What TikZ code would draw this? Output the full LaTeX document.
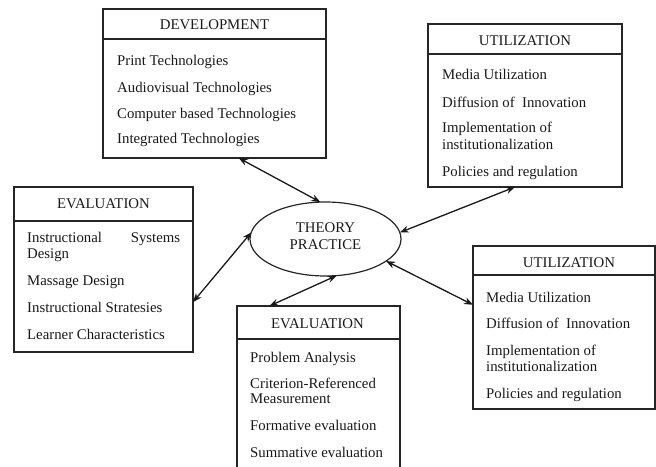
\documentclass[tikz,border=0pt]{standalone}
\usepackage{fontspec}
\setmainfont{Liberation Serif}
\usetikzlibrary{arrows.meta,shapes.geometric}
\begin{document}
\begin{tikzpicture}[x=1pt,y=-1pt,
  box/.style={draw=black!85,line width=1.2pt,rectangle,outer sep=0pt,inner sep=0pt},
  ttl/.style={anchor=base,inner sep=0pt,text=black!90,font=\fontsize{14.8pt}{17pt}\selectfont},
  itm/.style={anchor=base west,inner sep=0pt,text=black!90,font=\fontsize{14.8pt}{17pt}\selectfont},
  div/.style={draw=black!85,line width=1.2pt},
  link/.style={draw=black!90,line width=1.3pt,{Stealth[length=9pt,width=7pt]}-{Stealth[length=9pt,width=7pt]}}]
\useasboundingbox (0,0) rectangle (656,466);
\clip (0,0) rectangle (656,466);
% DEVELOPMENT
\node[box,minimum width=223pt,minimum height=149pt] (dev) at (214.5,83.5) {};
\draw[div] ([yshift=-30pt]dev.north west) -- ([yshift=-30pt]dev.north east);
\node[ttl] (devT) at (214.5,29) {DEVELOPMENT};
\node[itm] (dev1) at (117,65) {Print Technologies};
\node[itm] (dev2) at (117,92) {Audiovisual Technologies};
\node[itm] (dev3) at (117,118) {Computer based Technologies};
\node[itm] (dev4) at (117,143) {Integrated Technologies};
% UTILIZATION top
\node[box,minimum width=194pt,minimum height=163pt] (ut) at (525,105.5) {};
\draw[div] ([yshift=-30pt]ut.north west) -- ([yshift=-30pt]ut.north east);
\node[ttl] (utT) at (525,45) {UTILIZATION};
\node[itm] (ut1) at (442,79) {Media Utilization};
\node[itm] (ut2) at (442,107) {Diffusion of\ \ Innovation};
\node[itm] (ut3) at (442,132) {Implementation of};
\node[itm] (ut3b) at (442,149) {institutionalization};
\node[itm] (ut4) at (442,176) {Policies and regulation};
% EVALUATION left
\node[box,minimum width=179pt,minimum height=165pt] (evl) at (103.5,269.5) {};
\draw[div] ([yshift=-34pt]evl.north west) -- ([yshift=-34pt]evl.north east);
\node[ttl] (evlT) at (103.5,208) {EVALUATION};
\node[itm] (evl1) at (27,242) {\hbox to 153pt{Instructional\hfill Systems}};
\node[itm] (evl1b) at (27,258) {Design};
\node[itm] (evl2) at (27,285) {Massage Design};
\node[itm] (evl3) at (27,312) {Instructional Stratesies};
\node[itm] (evl4) at (27,339) {Learner Characteristics};
% THEORY PRACTICE
\node[draw=black!85,line width=1.2pt,ellipse,minimum width=151pt,minimum height=74pt,inner sep=0pt,outer sep=0pt] (ell) at (325.5,239) {};
\node[ttl] (th1) at (325.5,232) {THEORY};
\node[ttl] (th2) at (325.5,249) {PRACTICE};
% EVALUATION bottom
\node[box,minimum width=163pt,minimum height=170pt] (evb) at (318.5,391) {};
\draw[div] ([yshift=-33pt]evb.north west) -- ([yshift=-33pt]evb.north east);
\node[ttl] (evbT) at (317.5,328) {EVALUATION};
\node[itm] (evb1) at (250,362) {Problem Analysis};
\node[itm] (evb2) at (250,388) {Criterion-Referenced};
\node[itm] (evb2b) at (250,403) {Measurement};
\node[itm] (evb3) at (250,430) {Formative evaluation};
\node[itm] (evb4) at (250,457) {Summative evaluation};
% UTILIZATION bottom right
\node[box,minimum width=182pt,minimum height=163pt] (ubr) at (564,327.5) {};
\draw[div] ([yshift=-29pt]ubr.north west) -- ([yshift=-29pt]ubr.north east);
\node[ttl] (ubrT) at (569,267) {UTILIZATION};
\node[itm] (ubr1) at (486,302) {Media Utilization};
\node[itm] (ubr2) at (486,328) {Diffusion of\ \ Innovation};
\node[itm] (ubr3) at (486,355) {Implementation of};
\node[itm] (ubr3b) at (486,371) {institutionalization};
\node[itm] (ubr4) at (486,398) {Policies and regulation};
% connectors
\draw[link] (dev.-72.5) -- (ell.98);
\draw[link] (ut.-97) -- (ell.5);
\draw[link] (evl.-20) -- (ell.175);
\draw[link] (evb.120) -- (ell.-73);
\draw[link] (ubr.166) -- (ell.-20);
\end{tikzpicture}
\end{document}
